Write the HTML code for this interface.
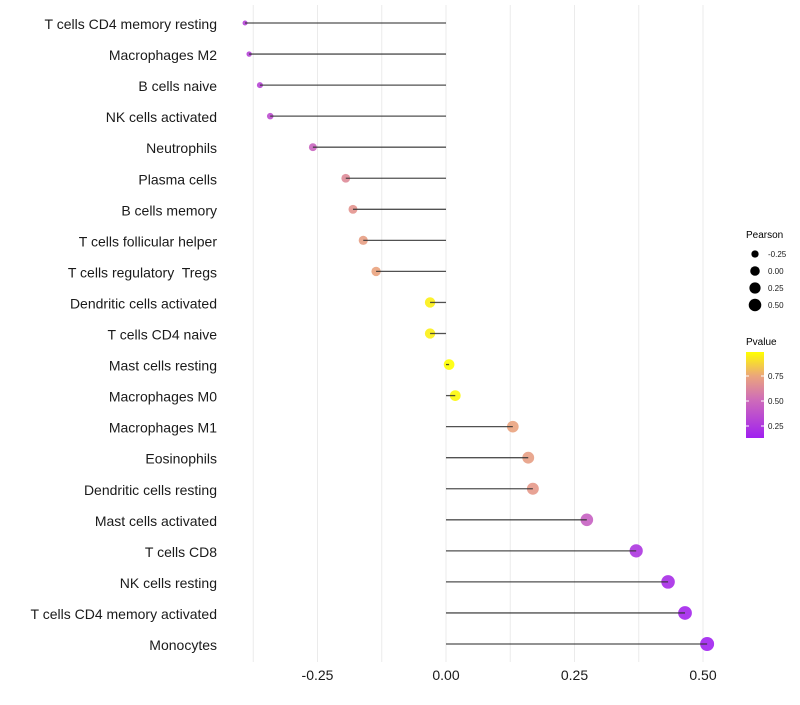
<!DOCTYPE html>
<html><head><meta charset="utf-8"><style>
body{margin:0;background:#fff;font-family:"Liberation Sans",sans-serif;}
svg text{font-family:"Liberation Sans",sans-serif;white-space:pre;}
</style></head><body>
<svg id="c" width="800" height="700" xmlns="http://www.w3.org/2000/svg">
<defs><linearGradient id="pg" x1="0" y1="1" x2="0" y2="0">
<stop offset="0" stop-color="#A020F0"/><stop offset="0.45" stop-color="#CF6DB8"/><stop offset="0.72" stop-color="#EBA57C"/><stop offset="1" stop-color="#FFFF00"/></linearGradient></defs>
</svg>
<script>
const categories=["T cells CD4 memory resting","Macrophages M2","B cells naive","NK cells activated","Neutrophils","Plasma cells","B cells memory","T cells follicular helper","T cells regulatory  Tregs","Dendritic cells activated","T cells CD4 naive","Mast cells resting","Macrophages M0","Macrophages M1","Eosinophils","Dendritic cells resting","Mast cells activated","T cells CD8","NK cells resting","T cells CD4 memory activated","Monocytes"];
const pearson=[-0.391,-0.383,-0.362,-0.342,-0.259,-0.195,-0.181,-0.161,-0.136,-0.031,-0.031,0.006,0.018,0.130,0.160,0.169,0.274,0.370,0.432,0.465,0.508];
const pvalue=[0.30,0.30,0.32,0.36,0.47,0.64,0.68,0.72,0.74,0.95,0.95,0.99,0.97,0.74,0.72,0.70,0.45,0.24,0.19,0.16,0.14];
const xTicks=[-0.25,0,0.25,0.5];
const xTickLabels=["-0.25","0.00","0.25","0.50"];
const sizeLegend=[-0.25,0,0.25,0.5];
const sizeLegendLabels=["-0.25","0.00","0.25","0.50"];
const pTicks=[0.25,0.5,0.75];
const pTickLabels=["0.25","0.50","0.75"];

const svg=document.getElementById('c');const NS="http://www.w3.org/2000/svg";
function mk(t,a,p){const e=document.createElementNS(NS,t);for(const k in a)e.setAttribute(k,a[k]);(p||svg).appendChild(e);return e;}
const x=v=>446+v*514;
const y=i=>23+i*31.05;
const r=v=>2+5*Math.sqrt(Math.max(0,(v+0.4)/0.91));
function lerp(a,b,t){return a.map((c,i)=>Math.round(c+(b[i]-c)*t));}
const stops=[[0,[160,32,240]],[0.45,[207,109,184]],[0.72,[235,165,124]],[1,[255,255,0]]];
const pmin=0.13,pmax=0.99;
function col(p){let t=Math.max(0,Math.min(1,(p-pmin)/(pmax-pmin)));for(let i=1;i<stops.length;i++){if(t<=stops[i][0]){const u=(t-stops[i-1][0])/(stops[i][0]-stops[i-1][0]);const c=lerp(stops[i-1][1],stops[i][1],u);return `rgb(${c})`;}}return 'rgb(255,255,0)';}
const gridVals=[-0.375,-0.25,-0.125,0,0.125,0.25,0.375,0.5];
gridVals.forEach(g=>{const l=mk('line',{x1:x(g),x2:x(g),y1:5,y2:662,stroke:'#ebebeb','stroke-width':1});

});
categories.forEach((c,i)=>{
const t=mk('text',{x:217,y:y(i)+6,'text-anchor':'end','font-size':14,fill:'#1a1a1a'});t.textContent=c;


const d=mk('circle',{cx:x(pearson[i]),cy:y(i),r:r(pearson[i]),fill:col(pvalue[i]),'fill-opacity':0.9});


const s=mk('line',{x1:x(0),x2:x(pearson[i]),y1:y(i),y2:y(i),stroke:'#333','stroke-width':1.3,'stroke-opacity':0.85});


});
xTicks.forEach((v,i)=>{const t=mk('text',{x:x(v),y:680,'text-anchor':'middle','font-size':14,fill:'#1a1a1a'});t.textContent=xTickLabels[i];

});
let t=mk('text',{x:746,y:238,'font-size':10,fill:'#000'});t.textContent='Pearson';


sizeLegend.forEach((v,i)=>{const cy=254+i*17;const c=mk('circle',{cx:755,cy:cy,r:r(v)*0.9,fill:'#000'});


const l=mk('text',{x:768,y:cy+3,'font-size':8,fill:'#1a1a1a'});l.textContent=sizeLegendLabels[i];

});
t=mk('text',{x:746,y:345,'font-size':10,fill:'#000'});t.textContent='Pvalue';


const bar=mk('rect',{x:746,y:352,width:18,height:86,fill:'url(#pg)'});


const py=p=>438-(p-pmin)/(pmax-pmin)*86;
pTicks.forEach((p,i)=>{mk('line',{x1:746,x2:749,y1:py(p),y2:py(p),stroke:'#fff'});mk('line',{x1:761,x2:764,y1:py(p),y2:py(p),stroke:'#fff'});
const l=mk('text',{x:768,y:py(p)+3,'font-size':8,fill:'#1a1a1a'});l.textContent=pTickLabels[i];

});
</script>
</body></html>
